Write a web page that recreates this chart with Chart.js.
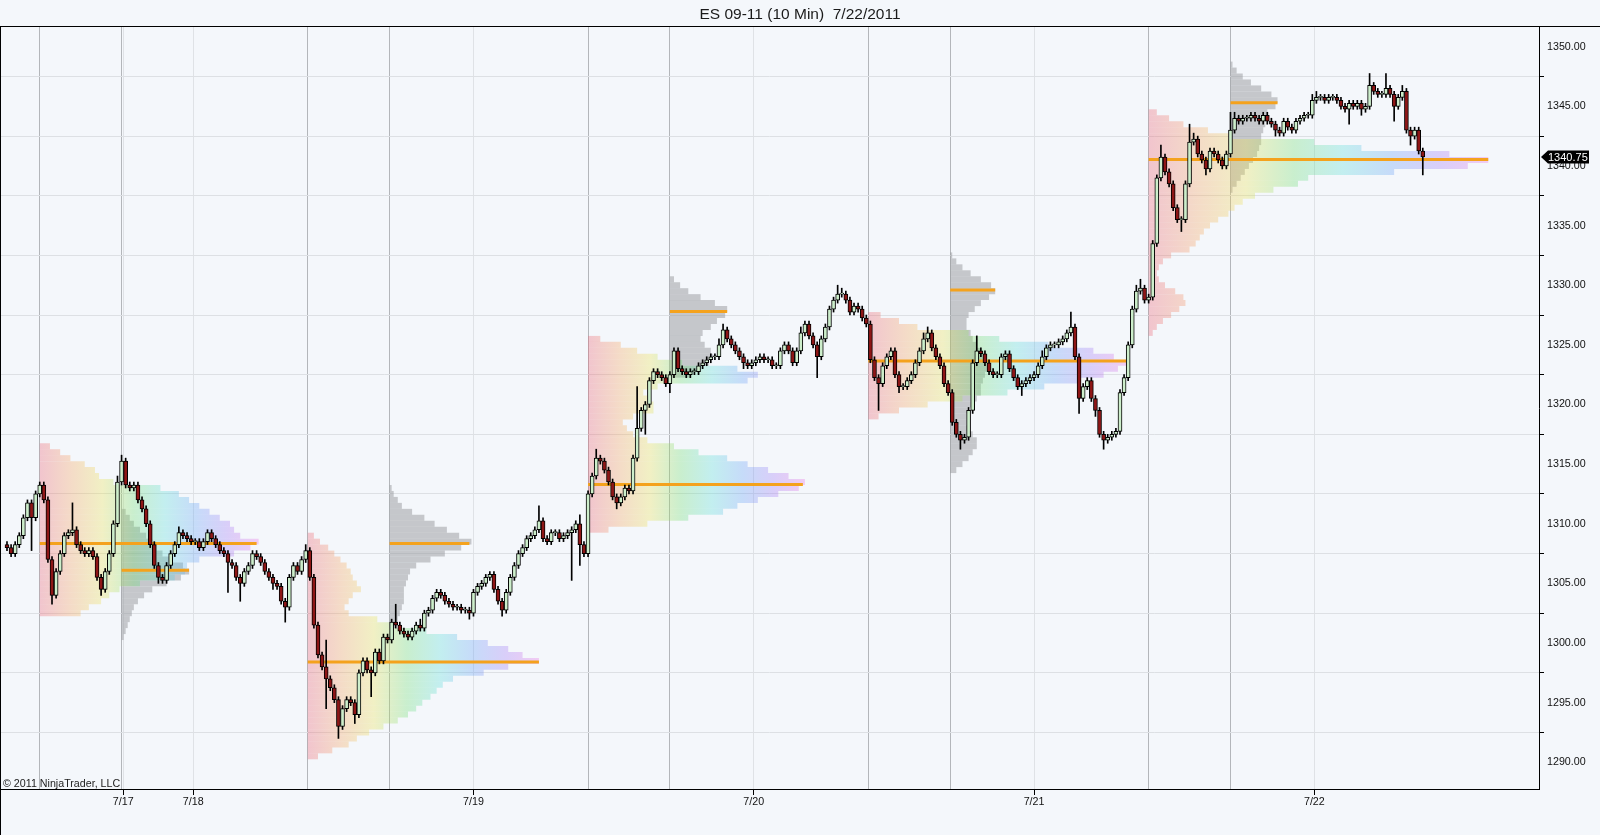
<!DOCTYPE html>
<html>
<head>
<meta charset="utf-8">
<script src="https://cdn.jsdelivr.net/npm/chart.js@4.4.0/dist/chart.umd.min.js"></script>
<style>
  html, body { margin: 0; padding: 0; background: #f4f7fb; }
  canvas { display: block; }
</style>
</head>
<body>
<canvas id="esChart" width="1600" height="835"></canvas>
<script>
// ES 09-11 10 min chart, 7/17 - 7/22/2011. x axis counts 10-min bars, candles drawn every 2 bars.
const chartTitle = 'ES 09-11 (10 Min)  7/22/2011';

const closes = [
  1308.0, 1307.5, 1308.25, 1309.0, 1310.5, 1311.75, 1310.5, 1312.5, 1313.25, 1312.0,
  1307.0, 1304.0, 1306.0, 1307.5, 1309.0, 1309.25, 1309.5, 1308.25, 1307.75, 1307.5,
  1307.75, 1307.25, 1305.5, 1304.5, 1306.0, 1307.5, 1310.0, 1313.5, 1315.25, 1313.25,
  1313.0, 1313.25, 1312.0, 1311.25, 1310.0, 1308.25, 1306.5, 1305.5, 1305.25, 1306.5,
  1307.5, 1308.25, 1309.25, 1309.0, 1308.75, 1308.5, 1308.5, 1308.0, 1308.5, 1309.25,
  1308.75, 1308.25, 1307.75, 1307.5, 1306.75, 1306.5, 1305.5, 1305.0, 1306.0, 1306.5,
  1307.5, 1307.25, 1306.75, 1306.0, 1305.5, 1305.0, 1304.75, 1303.5, 1303.0, 1305.5,
  1306.5, 1306.0, 1307.0, 1307.75, 1305.5, 1301.5, 1299.0, 1298.0, 1297.0, 1296.25,
  1295.25, 1293.0, 1294.5, 1295.25, 1295.0, 1294.0, 1297.5, 1298.5, 1297.75, 1297.5,
  1299.25, 1298.5, 1300.5, 1300.25, 1301.75, 1301.5, 1301.0, 1300.75, 1300.5, 1301.0,
  1301.5, 1301.25, 1302.5, 1302.75, 1303.75, 1304.25, 1304.0, 1303.5, 1303.25, 1303.0,
  1303.0, 1302.75, 1302.75, 1302.5, 1304.25, 1304.75, 1305.0, 1305.5, 1305.75, 1304.5,
  1303.5, 1302.75, 1304.25, 1305.5, 1306.5, 1307.5, 1308.0, 1308.75, 1309.0, 1309.5,
  1310.25, 1308.75, 1308.5, 1309.25, 1309.25, 1308.75, 1309.0, 1309.25, 1309.5, 1310.0,
  1308.25, 1307.5, 1312.5, 1314.0, 1315.5, 1315.25, 1314.5, 1313.5, 1312.25, 1311.75,
  1312.25, 1313.0, 1312.75, 1315.5, 1318.0, 1319.5, 1320.0, 1322.0, 1322.75, 1322.5,
  1322.25, 1321.75, 1322.5, 1324.5, 1323.0, 1322.75, 1322.5, 1322.75, 1322.75, 1323.25,
  1323.5, 1323.75, 1324.0, 1324.0, 1325.0, 1326.25, 1325.5, 1325.0, 1324.5, 1324.0,
  1323.5, 1323.25, 1323.5, 1323.75, 1324.0, 1323.75, 1323.75, 1323.25, 1323.25, 1324.5,
  1325.0, 1324.5, 1323.5, 1324.5, 1326.0, 1326.75, 1325.75, 1325.0, 1324.0, 1325.5,
  1326.5, 1328.0, 1328.75, 1329.25, 1329.25, 1328.75, 1327.75, 1328.25, 1328.0, 1327.25,
  1326.75, 1323.75, 1322.25, 1321.75, 1323.25, 1324.0, 1324.5, 1322.5, 1321.5, 1321.5,
  1322.0, 1322.5, 1323.5, 1324.5, 1325.5, 1326.0, 1324.75, 1324.0, 1323.25, 1321.75,
  1321.0, 1318.5, 1317.5, 1317.0, 1317.25, 1319.5, 1323.5, 1324.5, 1324.25, 1323.5,
  1322.75, 1322.5, 1322.5, 1324.0, 1324.25, 1323.0, 1322.25, 1321.5, 1321.75, 1322.0,
  1322.25, 1322.5, 1323.25, 1324.0, 1324.75, 1325.0, 1325.0, 1325.25, 1325.5, 1326.0,
  1326.5, 1324.0, 1320.5, 1321.5, 1322.0, 1320.5, 1319.5, 1317.5, 1317.0, 1317.25,
  1317.5, 1317.75, 1321.0, 1322.25, 1325.0, 1328.0, 1329.5, 1329.75, 1328.75, 1329.0,
  1333.5, 1339.0, 1340.75, 1339.5, 1338.5, 1336.5, 1335.5, 1335.5, 1338.5, 1342.0,
  1342.25, 1341.0, 1340.5, 1339.75, 1341.25, 1341.0, 1340.5, 1340.0, 1341.0, 1343.0,
  1344.0, 1343.75, 1344.0, 1344.0, 1344.25, 1344.0, 1343.75, 1344.25, 1343.75, 1343.5,
  1343.0, 1342.75, 1343.75, 1343.25, 1343.0, 1343.75, 1344.0, 1344.25, 1344.25, 1345.5,
  1345.75, 1345.75, 1345.5, 1345.75, 1345.75, 1345.5, 1345.0, 1344.75, 1345.25, 1345.0,
  1345.25, 1344.75, 1345.0, 1346.75, 1346.25, 1346.0, 1346.0, 1346.5, 1346.0, 1345.0,
  1345.75, 1346.25, 1343.0, 1342.5, 1343.0, 1341.25, 1340.75
];
const firstOpen = 1308.25;
const tickSize = 0.25;
const baseWickTicks = 1;
// longer wicks (in ticks) where the picture shows them
const wickUpTicks = {16: 9, 27: 2, 28: 2, 42: 2, 73: 2, 78: 9, 95: 6, 101: 2, 130: 5, 140: 3, 144: 3,
  154: 14, 174: 2, 175: 2, 194: 2, 203: 3, 204: 2, 224: 2, 225: 2, 237: 5, 253: 2, 260: 5, 276: 2,
  277: 3, 282: 4, 289: 6, 290: 2, 299: 6, 300: 2, 319: 2, 320: 2, 333: 4, 337: 5, 341: 2};
const wickDownTicks = {6: 11, 11: 3, 23: 2, 37: 2, 54: 10, 57: 6, 65: 2, 68: 5, 78: 10, 81: 4, 85: 3,
  89: 8, 113: 2, 121: 2, 138: 16, 140: 7, 149: 2, 156: 8, 162: 3, 180: 2, 198: 7, 213: 9, 218: 2,
  233: 3, 248: 3, 262: 5, 266: 2, 268: 3, 287: 4, 293: 2, 310: 2, 328: 5, 331: 2, 339: 5, 343: 3, 346: 6};

const priceTicks = [1290, 1295, 1300, 1305, 1310, 1315, 1320, 1325, 1330, 1335, 1340, 1345, 1350];
const dayLabels = ['7/17', '7/18', '7/19', '7/20', '7/21', '7/22'];
const dayBars = [56.8, 91, 228, 365, 502, 639];
const sessionBars = [16, 56, 147, 187, 284, 324, 421, 461, 558, 598];

// volume profiles: start bar, lowest row price, kind, row widths (bars) every 0.5 pt
const profileStart = [16, 56, 147, 187, 284, 324, 421, 461, 558, 598];
const profileLow = [1302.5, 1300.5, 1290.5, 1301.5, 1309.5, 1322.5, 1319.0, 1314.5, 1326.0, 1338.0];
const profileKind = ['rainbow', 'grey', 'rainbow', 'grey', 'rainbow', 'grey', 'rainbow', 'grey', 'rainbow', 'grey'];
const profileWidths = [
  [20, 24, 30, 34, 39, 49, 66, 71, 72, 78, 95, 103, 107, 98, 95, 93, 88, 83, 78, 73, 68, 59, 36, 29, 27, 22, 15, 10, 5],
  [1, 2, 3, 4, 5, 6, 8, 11, 15, 22, 29, 33, 30, 24, 20, 17, 15, 12, 9, 6, 4, 2],
  [5, 12, 20, 24, 30, 37, 44, 49, 53, 56, 60, 63, 66, 71, 86, 98, 113, 105, 98, 88, 73, 58, 40, 34, 20, 18, 20, 22, 26, 24, 22, 21, 19, 16, 13, 10, 6, 3],
  [3, 4, 5, 6, 7, 7, 7, 8, 9, 10, 13, 20, 27, 35, 40, 34, 28, 22, 17, 11, 6, 4, 2, 1],
  [10, 29, 49, 66, 73, 83, 93, 103, 106, 98, 88, 78, 68, 54, 42, 29, 22, 19, 17, 22, 32, 32, 29, 27, 34, 78, 83, 73, 46, 34, 24, 16, 6],
  [10, 15, 19, 21, 20, 17, 15, 16, 20, 23, 27, 28, 22, 15, 9, 5, 2],
  [5, 15, 29, 46, 68, 86, 103, 115, 122, 127, 120, 110, 88, 64, 49, 24, 15, 6],
  [3, 6, 9, 11, 13, 13, 11, 9, 8, 8, 9, 11, 13, 15, 15, 16, 17, 18, 18, 17, 15, 13, 11, 10, 8, 8, 9, 12, 15, 19, 22, 20, 15, 10, 6, 3, 1],
  [2, 4, 7, 11, 15, 18, 17, 13, 8, 5, 4, 5, 7, 11, 20, 23, 25, 27, 30, 34, 39, 42, 46, 52, 61, 73, 78, 120, 156, 166, 147, 104, 81, 39, 29, 17, 10, 4],
  [1, 3, 5, 7, 9, 11, 13, 14, 15, 15, 16, 17, 17, 18, 22, 23, 20, 15, 10, 6, 3, 1]
];
const pocPrices = [1308.35, 1306.1, 1298.4, 1308.35, 1313.3, 1327.8, 1323.65, 1329.6, 1340.55, 1345.3];
const pocLengths = [106, 33, 113, 39, 105, 28, 127, 22, 166, 23];

const rowStep = 0.5;
const yMin = 1287.76;
const yMax = 1351.65;
const fontFamily = '"Liberation Sans", Arial, sans-serif';
const upColor = '#cdeecb';
const downColor = '#8e1616';
const pocColor = '#f4a21d';
const greyFill = 'rgba(150, 152, 156, 0.5)';
const rainbowStops = [
  'rgba(235, 90, 110, 0.32)', 'rgba(245, 160, 90, 0.32)', 'rgba(235, 225, 80, 0.32)',
  'rgba(110, 220, 110, 0.32)', 'rgba(90, 220, 215, 0.32)', 'rgba(100, 160, 245, 0.32)',
  'rgba(160, 120, 245, 0.32)', 'rgba(235, 110, 225, 0.32)'
];

let opens = [], highs = [], lows = [];
closes.forEach((c, i) => {
    const o = i === 0 ? firstOpen : closes[i - 1];
    const up = wickUpTicks[i] ?? baseWickTicks;
    const dn = wickDownTicks[i] ?? baseWickTicks;
    opens.push(o);
    highs.push(Math.max(o, c) + up * tickSize);
    lows.push(Math.min(o, c) - dn * tickSize);
});

// plot height 762px for the price range: one profile row in pixels
const rowPixels = rowStep * 762 / (yMax - yMin);

let gradientCache = {};
function rainbowFor(chart, p) {
    const xs = chart.scales.x;
    if (!chart.chartArea || !xs) return greyFill;
    const maxW = Math.max(...profileWidths[p]);
    const x0 = xs.getPixelForValue(profileStart[p]);
    const x1 = xs.getPixelForValue(profileStart[p] + maxW);
    const key = p + ':' + Math.round(x0) + ':' + Math.round(x1);
    if (!gradientCache[key]) {
        const g = chart.ctx.createLinearGradient(x0, 0, x1, 0);
        rainbowStops.forEach((c, k) => g.addColorStop(k / (rainbowStops.length - 1), c));
        gradientCache[key] = g;
    }
    return gradientCache[key];
}

let datasets = [];

profileWidths.forEach((widths, p) => {
    datasets.push({
        type: 'bar',
        indexAxis: 'y',
        grouped: false,
        barThickness: rowPixels,
        inflateAmount: 0,
        order: 5,
        borderWidth: 0,
        data: widths.map((w, k) => ({ y: profileLow[p] + k * rowStep, x: [profileStart[p], profileStart[p] + w] })),
        backgroundColor: profileKind[p] === 'grey' ? greyFill : ctx => rainbowFor(ctx.chart, p)
    });
});

pocPrices.forEach((price, p) => {
    datasets.push({
        type: 'line',
        order: 3,
        data: [{ x: profileStart[p], y: price }, { x: profileStart[p] + pocLengths[p], y: price }],
        borderColor: pocColor,
        borderWidth: 3,
        borderCapStyle: 'butt',
        pointRadius: 0
    });
});

datasets.push({
    type: 'bar',
    order: 2,
    grouped: false,
    barThickness: 1,
    borderWidth: 0,
    backgroundColor: '#000',
    data: closes.map((c, i) => ({ x: i * 2, y: [lows[i], highs[i]] }))
});

datasets.push({
    type: 'bar',
    order: 1,
    grouped: false,
    barThickness: 4,
    minBarLength: 1,
    borderWidth: 1,
    borderColor: '#000',
    borderSkipped: false,
    backgroundColor: closes.map((c, i) => c >= opens[i] ? upColor : downColor),
    data: closes.map((c, i) => ({ x: i * 2, y: [opens[i], c] }))
});

const xTickValues = [...sessionBars, ...dayBars].sort((a, b) => a - b);

const ninjaFrame = {
    id: 'ninjaFrame',
    beforeDraw(chart) {
        const ctx = chart.ctx;
        ctx.save();
        ctx.fillStyle = '#f4f7fb';
        ctx.fillRect(0, 0, chart.width, chart.height);
        ctx.restore();
    },
    afterDraw(chart) {
        const ctx = chart.ctx;
        const area = chart.chartArea;
        ctx.save();
        ctx.strokeStyle = '#000';
        ctx.lineWidth = 1;
        ctx.beginPath();
        ctx.moveTo(0, area.top - 0.5);
        ctx.lineTo(chart.width, area.top - 0.5);
        ctx.moveTo(0.5, area.top);
        ctx.lineTo(0.5, chart.height);
        ctx.stroke();

        ctx.fillStyle = '#222';
        ctx.font = '10.7px ' + fontFamily;
        ctx.textBaseline = 'alphabetic';
        ctx.textAlign = 'left';
        ctx.fillText('\u00a9 2011 NinjaTrader, LLC', 3, area.bottom - 2);

        // last price marker on the price axis
        const last = closes[closes.length - 1];
        const y = chart.scales.y.getPixelForValue(last);
        const x = area.right + 2;
        ctx.fillStyle = '#000';
        ctx.beginPath();
        ctx.moveTo(x, y);
        ctx.lineTo(x + 7, y - 6.5);
        ctx.lineTo(x + 48, y - 6.5);
        ctx.lineTo(x + 48, y + 6.5);
        ctx.lineTo(x + 7, y + 6.5);
        ctx.closePath();
        ctx.fill();
        ctx.fillStyle = '#fff';
        ctx.font = '11px ' + fontFamily;
        ctx.textBaseline = 'middle';
        ctx.fillText(last.toFixed(2), x + 7, y + 0.5);
        ctx.restore();
    }
};

new Chart(document.getElementById('esChart'), {
    type: 'bar',
    data: { datasets: datasets },
    plugins: [ninjaFrame],
    options: {
        responsive: false,
        devicePixelRatio: 1,
        animation: false,
        events: [],
        layout: { padding: 0 },
        plugins: {
            legend: { display: false },
            tooltip: { enabled: false },
            title: {
                display: true,
                text: chartTitle,
                color: '#1a1a1a',
                font: { family: fontFamily, size: 15.5, weight: 'normal' },
                padding: { top: 5, bottom: 3.4 }
            }
        },
        scales: {
            x: {
                type: 'linear',
                min: -3.42,
                max: 748.8,
                offset: false,
                afterBuildTicks: s => { s.ticks = xTickValues.map(v => ({ value: v })); },
                afterFit: s => { s.height = 46; },
                ticks: {
                    autoSkip: false,
                    maxRotation: 0,
                    minRotation: 0,
                    padding: 1,
                    color: '#111',
                    font: { family: fontFamily, size: 10.7 },
                    callback: v => {
                        const k = dayBars.indexOf(v);
                        return k >= 0 ? dayLabels[k] : '';
                    }
                },
                grid: {
                    offset: false,
                    color: ctx => sessionBars.includes(ctx.tick && ctx.tick.value) ? '#b3b6ba' : '#dfe2e6',
                    tickColor: ctx => dayBars.includes(ctx.tick && ctx.tick.value) ? '#000' : 'rgba(0,0,0,0)',
                    tickLength: 6
                },
                border: { display: true, color: '#000', width: 1 }
            },
            y: {
                type: 'linear',
                position: 'right',
                min: yMin,
                max: yMax,
                offset: false,
                afterBuildTicks: s => { s.ticks = priceTicks.map(v => ({ value: v })); },
                afterFit: s => { s.width = 61; },
                ticks: {
                    padding: 3,
                    crossAlign: 'near',
                    color: '#111',
                    font: { family: fontFamily, size: 10.7 },
                    callback: v => Number(v).toFixed(2)
                },
                grid: { color: '#dde0e4', tickColor: '#000', tickLength: 5 },
                border: { display: true, color: '#000', width: 1 }
            }
        }
    }
});
</script>
</body>
</html>
